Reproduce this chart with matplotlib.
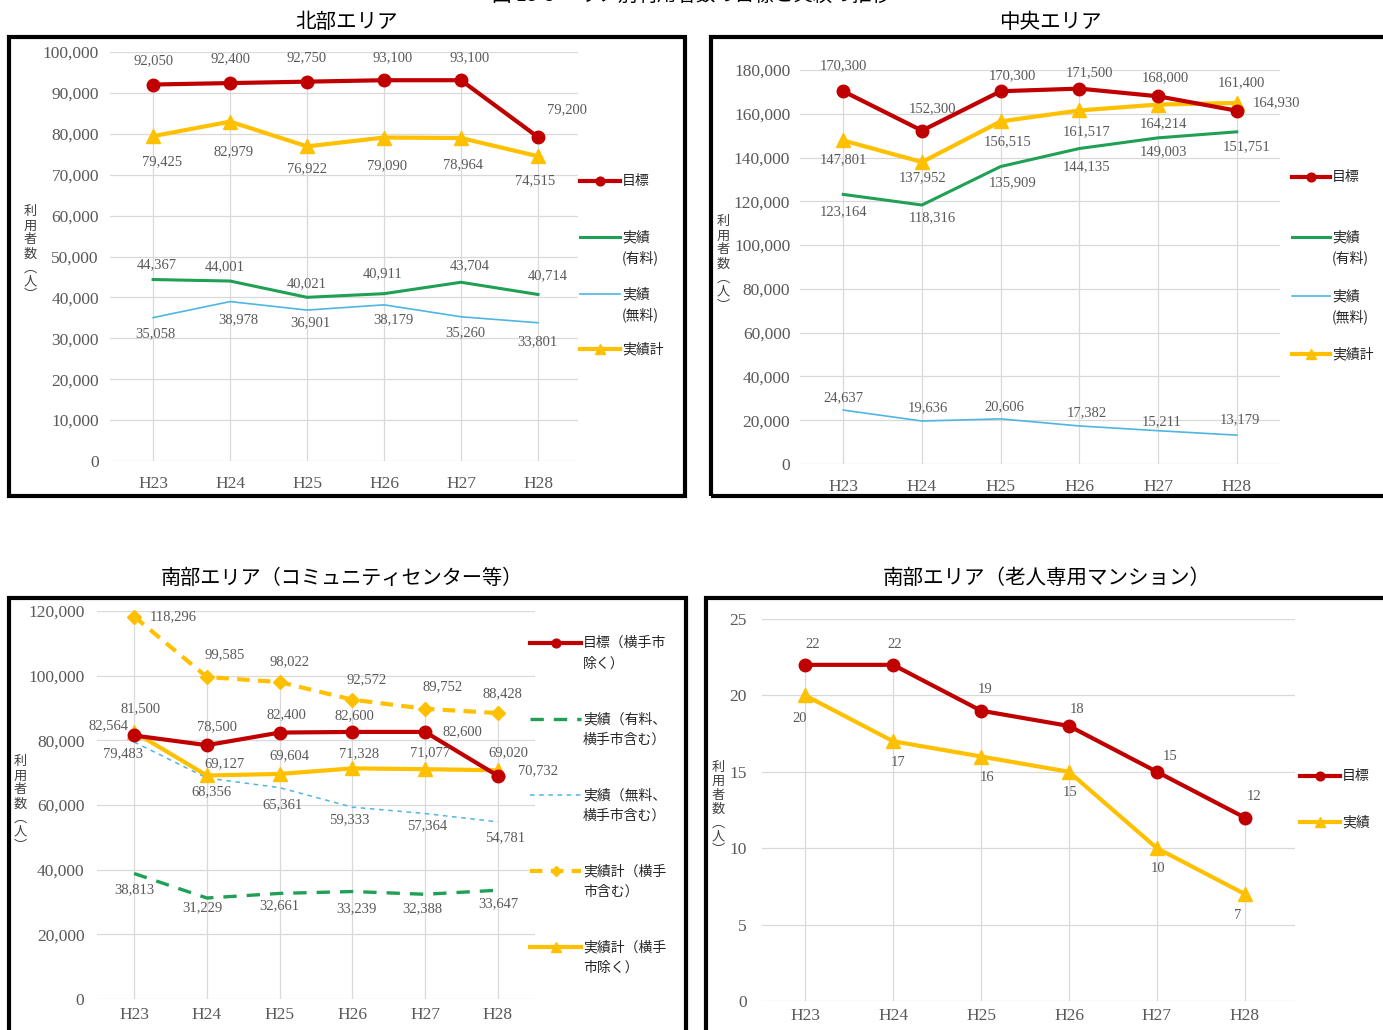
import numpy as np
import matplotlib
matplotlib.use("Agg")
import matplotlib.pyplot as plt
from matplotlib.lines import Line2D
from matplotlib.patches import Rectangle

# ---- data -------------------------------------------------------------
years = ["H23", "H24", "H25", "H26", "H27", "H28"]

north_target = [92050, 92400, 92750, 93100, 93100, 79200]
north_paid = [44367, 44001, 40021, 40911, 43704, 40714]
north_free = [35058, 38978, 36901, 38179, 35260, 33801]
north_total = [79425, 82979, 76922, 79090, 78964, 74515]

central_target = [170300, 152300, 170300, 171500, 168000, 161400]
central_paid = [123164, 118316, 135909, 144135, 149003, 151751]
central_free = [24637, 19636, 20606, 17382, 15211, 13179]
central_total = [147801, 137952, 156515, 161517, 164214, 164930]

south_target = [81500, 78500, 82400, 82600, 82600, 69020]
south_paid = [38813, 31229, 32661, 33239, 32388, 33647]
south_free = [79483, 68356, 65361, 59333, 57364, 54781]
south_total_incl = [118296, 99585, 98022, 92572, 89752, 88428]
south_total_excl = [82564, 69127, 69604, 71328, 71077, 70732]

elder_target = [22, 22, 19, 18, 15, 12]
elder_actual = [20, 17, 16, 15, 10, 7]

# ---- styles -------------------------------------------------------------
W, H = 1383, 1030
RED, YEL, GRN, CYN = "#C00000", "#FFC000", "#1FA055", "#4DB6E2"
GRID = "#D9D9D9"
TXT = "#595959"
JP = ["Noto Sans CJK JP", "DejaVu Sans"]
NUM = "Liberation Serif"

plt.rcParams["font.family"] = [NUM, "Noto Sans CJK JP"]

S_TARGET = dict(color=RED, lw=3.0, marker="o", ms=9)
S_PAID = dict(color=GRN, lw=2.2)
S_FREE = dict(color=CYN, lw=1.2)
S_TOTAL = dict(color=YEL, lw=3.0, marker="^", ms=10)
S_PAID_D = dict(color=GRN, lw=2.4, ls=(0, (4, 3)))
S_FREE_D = dict(color=CYN, lw=1.1, ls=(0, (3, 3)))
S_TOTAL_D = dict(color=YEL, lw=3.0, ls=(0, (3, 2)), marker="D", ms=7)


def fx(x):
    return x / W


def fy(y):
    return 1 - y / H


fig = plt.figure(figsize=(W / 100, H / 100), dpi=100)
fig.patch.set_facecolor("white")


def panel_axes(x0, x1, ytop, ybot, xlim, ylim, yticks, ypad, xpad=11, fmt="{:,}"):
    ax = fig.add_axes([fx(x0), fy(ybot), (x1 - x0) / W, (ybot - ytop) / H])
    ax.set_xlim(*xlim)
    ax.set_ylim(*ylim)
    for s in ax.spines.values():
        s.set_visible(False)
    ax.set_yticks(yticks)
    ax.set_yticklabels([fmt.format(t) for t in yticks])
    ax.set_xticks(range(len(years)))
    ax.set_xticklabels(years)
    ax.tick_params(axis="y", length=0, pad=ypad, labelsize=12.5, labelcolor=TXT)
    ax.tick_params(axis="x", length=0, pad=xpad, labelsize=12.5, labelcolor=TXT)
    for t in yticks:
        ax.axhline(t, color=GRID, lw=0.9, zorder=0)
    return ax


def drop_lines(ax, *series):
    top = np.max(np.array(series), axis=0)
    ax.vlines(range(len(years)), 0, top, color=GRID, lw=0.9, zorder=0)


def draw(ax, values, style, offsets, fmt="{:,}"):
    x = np.arange(len(values))
    ax.plot(x, values, zorder=3, clip_on=False, **style)
    for xi, v, (dx, dy) in zip(x, values, offsets):
        ax.annotate(fmt.format(v), (xi, v), xytext=(dx, dy),
                    textcoords="offset pixels", ha="center", va="center",
                    fontsize=10.5, color=TXT, family=NUM, zorder=5)


def ylabel(x, ytop):
    chars = "利用者数︵人︶"
    for i, c in enumerate(chars):
        fig.text(fx(x), fy(ytop + i * 14), c, family=JP, fontsize=9.5,
                 color="#404040", ha="center", va="center")


def legend(x0, x1, y, style, lines):
    st = dict(style)
    mk = st.pop("marker", None)
    ms = st.pop("ms", 0)
    fig.add_artist(Line2D([fx(x0), fx(x1)], [fy(y), fy(y)],
                          transform=fig.transFigure, **st))
    if mk:
        fig.add_artist(Line2D([fx((x0 + x1) / 2)], [fy(y)], marker=mk,
                              ms=ms * 0.7, color=st["color"], lw=0,
                              transform=fig.transFigure))
    for i, t in enumerate(lines):
        fig.text(fx(x1 + 2), fy(y + i * 21), t, family=JP, fontsize=10,
                 color="#262626", ha="left", va="center")


def border(x0, y0, x1, y1):
    fig.add_artist(Rectangle((fx(x0), fy(y1)), (x1 - x0) / W, (y1 - y0) / H,
                             transform=fig.transFigure, fill=False,
                             ec="black", lw=3, clip_on=False))


# ---- figure title (top edge) -----------------------------------------
fig.text(0.5, fy(-5), "図 13-3 エリア別利用者数の目標と実績の推移", family=JP,
         fontsize=14, ha="center", va="center", color="black")

# ---- 北部エリア -----------------------------------------------------------
border(9, 37, 685, 496)
fig.text(fx(347), fy(22), "北部エリア", family=JP, fontsize=14.8, ha="center", va="center")
ax = panel_axes(110, 578, 52, 461, (-0.56, 5.52), (0, 100000),
                list(range(0, 100001, 10000)), 8)
drop_lines(ax, north_target, north_paid, north_free, north_total)
draw(ax, north_free, S_FREE, [(2, -16), (8, -18), (3, -13), (9, -15), (4, -16), (-1, -19)])
draw(ax, north_paid, S_PAID, [(4, 15), (-5, 14), (0, 14), (-1, 20), (9, 17), (10, 19)])
draw(ax, north_total, S_TOTAL, [(9, -26), (3, -30), (0, -22), (3, -28), (2, -27), (-3, -24)])
draw(ax, north_target, S_TARGET, [(0, 24), (0, 24), (0, 24), (9, 23), (9, 23), (29, 27)])
ylabel(30, 212)
legend(580, 620, 181, S_TARGET, ["目標"])
legend(580, 620, 237, S_PAID, ["実績", "(有料)"])
legend(580, 620, 294, S_FREE, ["実績", "(無料)"])
legend(580, 620, 349, S_TOTAL, ["実績計"])

# ---- 中央エリア -----------------------------------------------------------
border(711, 37, 1395, 496)
fig.text(fx(1050), fy(22), "中央エリア", family=JP, fontsize=14.8, ha="center", va="center")
ax = panel_axes(800, 1280, 70, 464, (-0.55, 5.55), (0, 180000),
                list(range(0, 180001, 20000)), 7)
drop_lines(ax, central_target, central_paid, central_free, central_total)
draw(ax, central_free, S_FREE, [(0, 12), (6, 13), (4, 12), (7, 13), (4, 9), (3, 15)])
draw(ax, central_paid, S_PAID, [(0, -17), (10, -13), (12, -16), (7, -18), (5, -14), (10, -15)])
draw(ax, central_total, S_TOTAL, [(0, -19), (1, -16), (7, -20), (7, -21), (5, -19), (40, 0)])
draw(ax, central_target, S_TARGET, [(0, 26), (11, 22), (12, 16), (10, 16), (7, 19), (5, 28)])
ylabel(723, 222)
legend(1292, 1330, 177, S_TARGET, ["目標"])
legend(1292, 1330, 237, S_PAID, ["実績", "(有料)"])
legend(1292, 1330, 296, S_FREE, ["実績", "(無料)"])
legend(1292, 1330, 354, S_TOTAL, ["実績計"])

# ---- 南部エリア（コミュニティセンター等） ----------------------------------
border(9, 598, 686, 1045)
fig.text(fx(342), fy(578), "南部エリア（コミュニティセンター等）", family=JP,
         fontsize=14.5, ha="center", va="center")
ax = panel_axes(97, 535, 611, 999, (-0.51, 5.51), (0, 120000),
                list(range(0, 120001, 20000)), 9, xpad=6)
drop_lines(ax, south_target, south_paid, south_free, south_total_incl, south_total_excl)
draw(ax, south_paid, S_PAID_D, [(0, -16), (-4, -10), (0, -12), (4, -17), (-3, -14), (0, -13)])
draw(ax, south_free, S_FREE_D, [(-11, -12), (5, -14), (3, -17), (-3, -13), (2, -12), (7, -16)])
draw(ax, south_total_excl, S_TOTAL, [(-26, 6), (18, 12), (10, 18), (7, 15), (5, 16), (40, 0)])
draw(ax, south_target, S_TARGET, [(6, 27), (10, 18), (7, 18), (2, 16), (37, 0), (10, 23)])
draw(ax, south_total_incl, S_TOTAL_D, [(39, 0), (18, 22), (10, 20), (14, 20), (17, 22), (5, 19)])
ylabel(20, 762)
legend(530, 581, 643, S_TARGET, ["目標（横手市", "除く）"])
legend(530, 581, 719, S_PAID_D, ["実績（有料、", "横手市含む）"])
legend(530, 581, 795, S_FREE_D, ["実績（無料、", "横手市含む）"])
legend(530, 581, 871, S_TOTAL_D, ["実績計（横手", "市含む）"])
legend(530, 581, 947, S_TOTAL, ["実績計（横手", "市除く）"])

# ---- 南部エリア（老人専用マンション） --------------------------------------
border(706, 598, 1395, 1045)
fig.text(fx(1047), fy(578), "南部エリア（老人専用マンション）", family=JP,
         fontsize=14.8, ha="center", va="center")
ax = panel_axes(762, 1295, 619, 1001, (-0.49, 5.57), (0, 25),
                list(range(0, 26, 5)), 11, xpad=5, fmt="{}")
drop_lines(ax, elder_target, elder_actual)
draw(ax, elder_actual, S_TOTAL, [(-5, -23), (5, -21), (6, -21), (1, -21), (1, -20), (-7, -21)], fmt="{}")
draw(ax, elder_target, S_TARGET, [(8, 20), (2, 20), (4, 21), (8, 16), (13, 15), (9, 21)], fmt="{}")
ylabel(718, 767)
legend(1300, 1340, 776, S_TARGET, ["目標"])
legend(1300, 1340, 822, S_TOTAL, ["実績"])

fig.savefig("out.png", dpi=100, facecolor="white")
